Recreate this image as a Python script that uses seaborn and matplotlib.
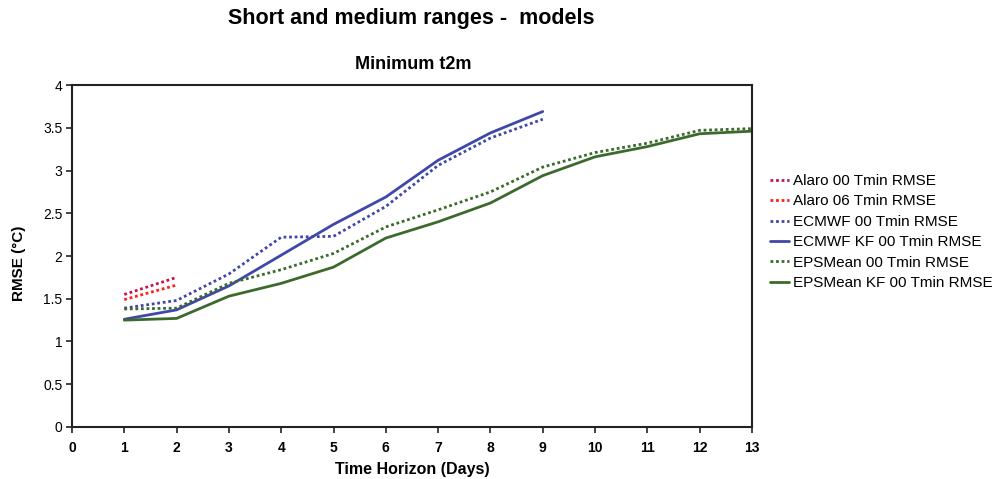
import matplotlib
matplotlib.use("Agg")
import matplotlib.pyplot as plt
import seaborn as sns
import pandas as pd

sns.set_theme(style="white")
plt.rcParams['font.family'] = ['Liberation Sans', 'DejaVu Sans']
plt.rcParams['text.color'] = 'black'
plt.rcParams['axes.labelcolor'] = 'black'

days = list(range(1, 14))

alaro_00 = [1.55, 1.75]
alaro_06 = [1.49, 1.66]
ecmwf_00 = [1.39, 1.48, 1.79, 2.22, 2.23, 2.58, 3.06, 3.38, 3.60]
ecmwf_kf_00 = [1.26, 1.37, 1.65, 2.01, 2.37, 2.69, 3.12, 3.44, 3.69]
eps_00 = [1.38, 1.39, 1.68, 1.84, 2.03, 2.34, 2.54, 2.75, 3.04, 3.21, 3.32, 3.47, 3.49]
eps_kf_00 = [1.25, 1.27, 1.53, 1.68, 1.87, 2.21, 2.40, 2.62, 2.94, 3.16, 3.28, 3.43, 3.46]

series_names = ["Alaro 00 Tmin RMSE", "Alaro 06 Tmin RMSE", "ECMWF 00 Tmin RMSE",
                "ECMWF KF 00 Tmin RMSE", "EPSMean 00 Tmin RMSE", "EPSMean KF 00 Tmin RMSE"]
series_values = [alaro_00, alaro_06, ecmwf_00, ecmwf_kf_00, eps_00, eps_kf_00]
colors = ["#c4164a", "#ff1f1f", "#3f48a8", "#3f48a8", "#3b6a2c", "#3b6a2c"]
styles = ["dot", "dot", "dot", "solid", "dot", "solid"]

title = "Short and medium ranges -  models"
subtitle = "Minimum t2m"
xlabel = "Time Horizon (Days)"
ylabel = "RMSE (°C)"

rows = []
for name, vals in zip(series_names, series_values):
    for d, v in zip(days, vals):
        rows.append({"day": d, "rmse": v, "series": name})
df = pd.DataFrame(rows)

fig = plt.figure(figsize=(10.04, 4.79), dpi=100)
ax = fig.add_axes([0.0717, 0.1086, 0.749 - 0.0717, 0.8225 - 0.1086])

for name, col, st in zip(series_names, colors, styles):
    sub = df[df["series"] == name]
    ls = (0, (1, 1)) if st == "dot" else "-"
    sns.lineplot(data=sub, x="day", y="rmse", ax=ax, color=col, linewidth=2.0,
                 linestyle=ls, label=name, estimator=None, sort=False)

ax.set_xlim(0, 13)
ax.set_ylim(0, 4)
ax.set_xticks(range(0, 14))
ax.set_yticks([0, 0.5, 1, 1.5, 2, 2.5, 3, 3.5, 4])
ax.set_yticklabels(["0", "0.5", "1", "1.5", "2", "2.5", "3", "3.5", "4"])
ax.tick_params(axis="both", direction="out", length=4, width=1.2, color="#222222",
               labelsize=10, labelcolor="black")
ax.tick_params(axis="x", bottom=True, pad=6)
ax.tick_params(axis="y", left=True, pad=3)
for lbl in ax.get_xticklabels():
    lbl.set_fontweight("bold")
for sp in ax.spines.values():
    sp.set_color("#222222")
    sp.set_linewidth(1.5)

ax.set_xlabel(xlabel, fontsize=11.5, fontweight="bold", labelpad=5)
ax.set_ylabel(ylabel, fontsize=11, fontweight="bold")
ax.yaxis.set_label_coords(-0.068, 0.48)

fig.text(0.41, 0.962, title, ha="center", va="center", fontsize=15.5, fontweight="bold")
fig.text(0.412, 0.866, subtitle, ha="center", va="center", fontsize=13, fontweight="bold")

leg = ax.legend(loc="center left", bbox_to_anchor=(1.018, 0.57), frameon=False,
                fontsize=11, handlelength=1.2, handletextpad=0.25, labelspacing=0.42,
                borderaxespad=0)
for h in leg.get_lines():
    h.set_linewidth(2.0)

fig.savefig("out.png", dpi=100, facecolor="white")
